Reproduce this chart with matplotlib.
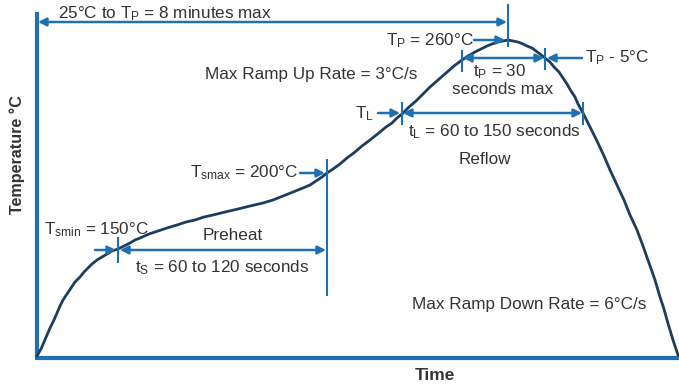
import matplotlib
matplotlib.use("Agg")
import matplotlib.pyplot as plt

plt.rcParams['font.family'] = ['Liberation Sans', 'DejaVu Sans']
plt.rcParams['mathtext.fontset'] = 'custom'
plt.rcParams['mathtext.rm'] = 'Liberation Sans'
plt.rcParams['mathtext.it'] = 'Liberation Sans'

# diagram units: x = time position, y = height (drawn top-down, like the picture)
curve_x = [37, 41, 44, 47, 50, 54, 57, 60, 63, 67, 71, 75, 80, 84, 88, 92,
           97, 102, 107, 112, 118, 124, 130, 135, 140, 149, 158, 167, 177,
           186, 195, 204, 213, 225, 238, 250, 263, 273, 283, 293, 303, 310,
           316, 322, 327, 333, 340, 347, 355, 362, 370, 375, 380, 386, 392,
           397, 402, 409, 416, 423, 430, 438, 446, 454, 462, 468, 475, 481,
           487, 492, 498, 503, 508, 513, 518, 523, 527, 532, 536, 540, 545,
           550, 554, 559, 563, 567, 571, 575, 578, 583, 590, 597, 604, 610,
           617, 624, 630, 637, 643, 649, 655, 660, 664, 667, 670, 673, 676, 678]
curve_y = [356, 349, 342, 335, 328, 320, 313, 306, 300, 294, 288, 282, 277,
           272, 268, 264, 260, 257, 254, 251, 249, 246, 243, 240, 238, 234,
           231, 228, 225, 222, 220, 217, 215, 212, 209, 206, 203, 200, 196,
           192, 188, 185, 181, 177, 173, 169, 164, 158, 152, 146, 140, 136,
           132, 127, 123, 118, 114, 107, 101, 94, 87, 80, 73, 66, 60, 56,
           52, 49, 46, 44, 42, 41, 40, 41, 42, 44, 46, 48, 51, 54, 58, 62,
           67, 72, 78, 84, 91, 97, 104, 113, 127, 141, 156, 170, 185, 200,
           215, 230, 246, 263, 280, 297, 309, 320, 330, 340, 349, 355]

# marker ticks (x, y_top, y_bottom)
ticks = [(508, 5, 46), (462, 51, 71), (545, 49, 69), (402, 103, 124),
         (583, 103, 124), (118, 238, 262), (327, 160, 295)]

# arrows: (x_from, x_to, y, style)
arrows = [(38, 507, 22, '<|-|>'),
          (474, 505, 40, '-|>'),
          (463, 544, 58, '<|-|>'),
          (582, 547, 58, '-|>'),
          (378, 400, 113, '-|>'),
          (403, 582, 113, '<|-|>'),
          (300, 325, 173, '-|>'),
          (95, 116, 250, '-|>'),
          (120, 326, 250, '<|-|>')]

# labels: (text, x, y, ha)
labels = [(r'25°C to T$_\mathrm{P}$ = 8 minutes max', 58, 14, 'left'),
          (r'T$_\mathrm{P}$ = 260°C', 474, 41, 'right'),
          ('Max Ramp Up Rate = 3°C/s', 205, 74, 'left'),
          (r't$_\mathrm{P}$ = 30', 500, 72, 'center'),
          ('seconds max', 503, 90, 'center'),
          (r'T$_\mathrm{P}$ - 5°C', 585, 58, 'left'),
          (r'T$_\mathrm{L}$', 355, 114, 'left'),
          (r't$_\mathrm{L}$ = 60 to 150 seconds', 408, 132, 'left'),
          ('Reflow', 485, 160, 'center'),
          (r'T$_\mathrm{smax}$ = 200°C', 190, 173, 'left'),
          (r'T$_\mathrm{smin}$ = 150°C', 44, 230, 'left'),
          ('Preheat', 233, 236, 'center'),
          (r't$_\mathrm{S}$ = 60 to 120 seconds', 135, 268, 'left'),
          ('Max Ramp Down Rate = 6°C/s', 412, 305, 'left')]

axis_color = '#1f70b0'
curve_color = '#1c3d5e'
text_color = '#333333'

fig = plt.figure(figsize=(6.79, 3.85), dpi=100)
ax = fig.add_axes([0, 0, 1, 1])
ax.set_xlim(0, 679)
ax.set_ylim(385, 0)
ax.axis('off')

# axes of the diagram
ax.plot([37, 37], [12, 358], color=axis_color, lw=3, solid_capstyle='butt')
ax.plot([35, 679], [358, 358], color=axis_color, lw=3, solid_capstyle='butt')

ax.plot(curve_x, curve_y, color=curve_color, lw=2)

for x, y0, y1 in ticks:
    ax.plot([x, x], [y0, y1], color=axis_color, lw=1.5)

for x0, x1, y, style in arrows:
    ax.annotate('', xy=(x1, y), xytext=(x0, y),
                arrowprops=dict(arrowstyle=style, color=axis_color, lw=1.8,
                                mutation_scale=12, shrinkA=0, shrinkB=0))

for txt, x, y, ha in labels:
    ax.text(x, y, txt, ha=ha, va='center', fontsize=12.3, color=text_color)

ax.text(17, 155, 'Temperature °C', rotation=90, ha='center', va='center',
        fontsize=11.6, fontweight='bold', color=text_color)
ax.text(435, 375, 'Time', ha='center', va='center', fontsize=12.5,
        fontweight='bold', color=text_color)

fig.savefig('out.png', dpi=100)
